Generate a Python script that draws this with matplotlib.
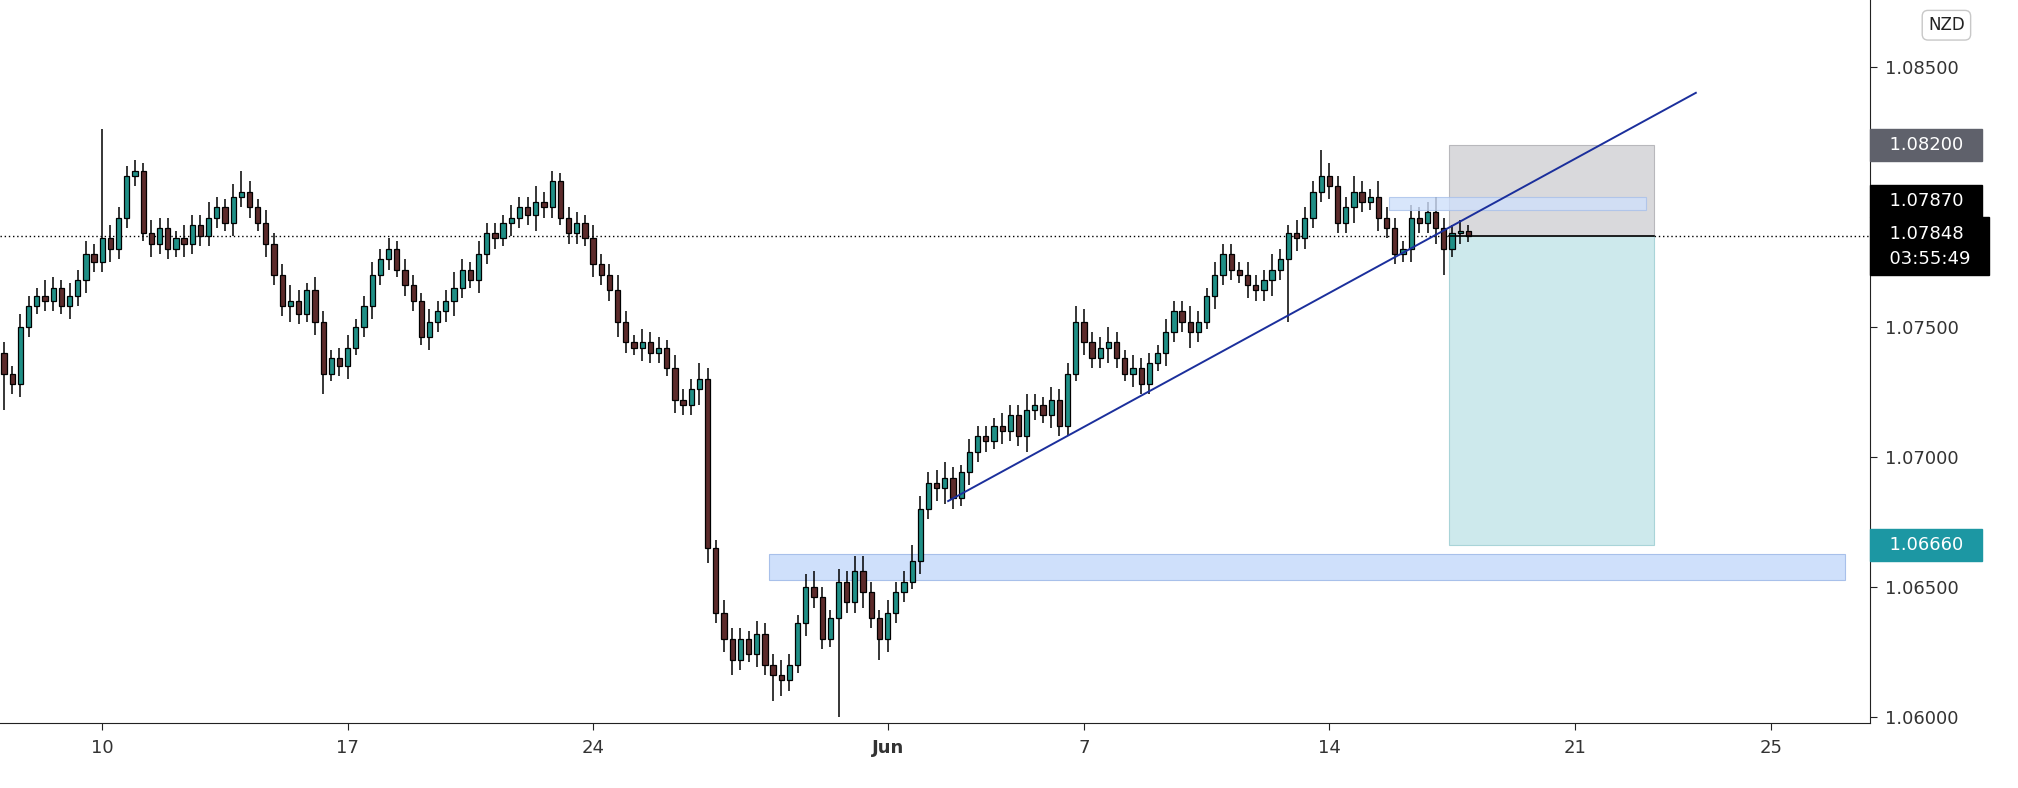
import matplotlib
matplotlib.use("Agg")
import matplotlib.pyplot as plt
from matplotlib.patches import Rectangle
import matplotlib.transforms as mtransforms

closes = [
 1.0732,1.0728,1.0750,1.0758,1.0762,1.0760,1.0765,1.0758,1.0762,1.0768,
 1.0778,1.0775,1.0784,1.0780,1.0792,1.0808,1.0810,1.0786,1.0782,1.0788,
 1.0780,1.0784,1.0782,1.0789,1.0785,1.0792,1.0796,1.0790,1.0800,1.0802,
 1.0796,1.0790,1.0782,1.0770,1.0758,1.0760,1.0755,1.0764,1.0752,1.0732,
 1.0738,1.0735,1.0742,1.0750,1.0758,1.0770,1.0776,1.0780,1.0772,1.0766,
 1.0760,1.0746,1.0752,1.0756,1.0760,1.0765,1.0772,1.0768,1.0778,1.0786,
 1.0784,1.0790,1.0792,1.0796,1.0793,1.0798,1.0796,1.0806,1.0792,1.0786,
 1.0790,1.0784,1.0774,1.0770,1.0764,1.0752,1.0744,1.0742,1.0744,1.0740,
 1.0742,1.0734,1.0722,1.0720,1.0726,1.0730,1.0665,1.0640,1.0630,1.0622,
 1.0630,1.0624,1.0632,1.0620,1.0616,1.0614,1.0620,1.0636,1.0650,1.0646,
 1.0630,1.0638,1.0652,1.0644,1.0656,1.0648,1.0638,1.0630,1.0640,1.0648,
 1.0652,1.0660,1.0680,1.0690,1.0688,1.0692,1.0684,1.0694,1.0702,1.0708,
 1.0706,1.0712,1.0710,1.0716,1.0708,1.0718,1.0720,1.0716,1.0722,1.0712,
 1.0732,1.0752,1.0744,1.0738,1.0742,1.0744,1.0738,1.0732,1.0734,1.0728,
 1.0736,1.0740,1.0748,1.0756,1.0752,1.0748,1.0752,1.0762,1.0770,1.0778,
 1.0772,1.0770,1.0766,1.0764,1.0768,1.0772,1.0776,1.0786,1.0784,1.0792,
 1.0802,1.0808,1.0804,1.0790,1.0796,1.0802,1.0798,1.0800,1.0792,1.0788,
 1.0778,1.0780,1.0792,1.0790,1.0794,1.0788,1.0780,1.0786,1.0787,1.07848,
]
first_open = 1.0740
# wick extensions in pips (0.0001)
wick_up = [
 4,3,5,4,3,6,4,3,5,4,
 5,4,42,5,4,4,4,3,5,4,
 4,3,5,4,4,6,4,3,5,8,
 4,3,5,4,4,6,4,3,5,4,
 3,4,5,3,4,5,4,4,3,4,
 4,3,5,4,4,6,4,3,5,4,
 4,3,5,4,4,6,4,4,3,4,
 4,3,5,4,4,6,4,3,5,4,
 4,3,5,4,4,6,4,3,5,4,
 4,3,5,4,4,6,4,3,5,6,
 4,3,5,4,6,6,4,3,5,4,
 4,6,5,4,5,6,4,3,5,4,
 4,3,5,4,4,6,4,3,5,4,
 4,6,5,4,4,6,4,3,5,4,
 4,3,5,4,4,6,4,3,5,4,
 4,3,5,4,4,6,4,3,5,4,
 4,10,5,4,4,6,4,3,6,4,
 4,3,5,4,4,6,4,3,4,2,
]
wick_dn = [
 14,4,5,4,3,4,4,3,5,4,
 5,4,4,5,4,4,4,3,5,4,
 4,3,5,4,4,4,4,3,5,4,
 4,3,5,4,4,6,4,3,5,8,
 3,4,5,3,4,5,4,4,3,4,
 4,3,5,4,4,6,4,3,5,4,
 4,3,5,4,4,6,4,4,3,4,
 4,3,5,4,4,6,4,3,5,4,
 4,3,5,4,4,6,6,4,5,6,
 4,3,5,4,10,6,4,3,5,4,
 4,3,38,4,4,6,4,8,5,4,
 4,3,5,4,5,6,4,3,5,4,
 4,3,5,4,4,6,4,3,5,4,
 4,3,5,4,4,6,4,3,5,4,
 4,3,5,4,4,6,4,3,5,4,
 4,3,5,4,4,6,4,24,5,4,
 4,4,5,4,4,6,4,3,5,4,
 4,3,5,4,4,6,10,3,4,2,
]
day_ticks = [12, 42, 72, 108, 132, 162, 192, 216]
day_labels = ["10", "17", "24", "Jun", "7", "14", "21", "25"]
price_ticks = [1.060, 1.065, 1.070, 1.075, 1.080, 1.085]

n = min(len(closes), len(wick_up), len(wick_dn))
fig = plt.figure(figsize=(20.18, 7.88), dpi=100)
ax = fig.add_axes([0.0, 0.082, 0.9267, 0.918])
UP, DN = "#1f8f86", "#5c2b2b"
prev = first_open
for i in range(n):
    o, c = prev, closes[i]
    hi = max(o, c) + wick_up[i] * 1e-4
    lo = min(o, c) - wick_dn[i] * 1e-4
    col = UP if c >= o else DN
    ax.vlines(i, lo, hi, color="black", lw=1.1, zorder=2)
    h = max(abs(c - o), 0.00003)
    ax.add_patch(Rectangle((i - 0.32, min(o, c)), 0.64, h, facecolor=col,
                           edgecolor="black", lw=0.9, zorder=3))
    prev = c

last = closes[n - 1]
ax.axhline(last, color="black", lw=1, ls=(0, (1, 2)), zorder=1)
ax.add_patch(Rectangle((93.5, 1.06525), 131.5, 0.0010, facecolor="#cfe0fb",
                       edgecolor="#a8c0ea", lw=0.8, zorder=1))
ax.add_patch(Rectangle((169.3, 1.0795), 31.4, 0.0005, facecolor="#cfe0fb",
                       edgecolor="#a8c0ea", lw=0.8, zorder=4, alpha=0.8))
ax.add_patch(Rectangle((176.6, last), 25.1, 1.0820 - last, facecolor="#d9d9dc",
                       edgecolor="#b8b8bc", lw=0.8, zorder=1))
ax.add_patch(Rectangle((176.6, 1.0666), 25.1, last - 1.0666, facecolor="#cde9ec",
                       edgecolor="#a9d4d8", lw=0.8, zorder=1))
ax.plot([176.6, 201.7], [last + 0.00003] * 2, color="black", lw=1.2, zorder=5)
ax.plot([115.4, 206.8], [1.0683, 1.0840], color="#1b2f9c", lw=1.4, zorder=6)

ax.set_xlim(-0.5, 228.1)
ax.set_ylim(1.05975, 1.08757)
for s in ["top", "left"]:
    ax.spines[s].set_visible(False)
ax.spines["right"].set_color("#222")
ax.spines["bottom"].set_color("#222")
ax.yaxis.tick_right()
ax.set_yticks(price_ticks)
ax.set_yticklabels([("" if abs(p - 1.080) < 1e-9 else f"{p:.5f}") for p in price_ticks],
                   fontsize=13, color="#333")
ax.set_xticks(day_ticks)
ax.set_xticklabels(day_labels, fontsize=13, color="#333")
for lbl in ax.get_xticklabels():
    if lbl.get_text() == "Jun":
        lbl.set_fontweight("bold")
ax.tick_params(axis="both", length=5, color="#222", pad=6)

tr = mtransforms.blended_transform_factory(ax.transAxes, ax.transData)
def tag(y, txt, bg, va="center"):
    ax.text(1.004, y, txt, transform=tr, fontsize=13, color="white", va=va,
            ha="left", zorder=10, clip_on=False, linespacing=1.5,
            bbox=dict(boxstyle="square,pad=0.4", fc=bg, ec=bg))
tag(1.0820, "  1.08200  ", "#5f616b")
tag(1.07985, "  1.07870  ", "#000000")
tag(last + 0.00045, "  1.07848  \n  03:55:49  ", "#000000", va="top")
tag(1.0666, "  1.06660  ", "#1c97a3")
ax.text(1.031, 1.0866, "NZD", transform=tr, fontsize=12, color="#222", ha="left",
        va="center", clip_on=False,
        bbox=dict(boxstyle="round,pad=0.35", fc="white", ec="#c8c8c8"))
fig.savefig("out.png", dpi=100)
